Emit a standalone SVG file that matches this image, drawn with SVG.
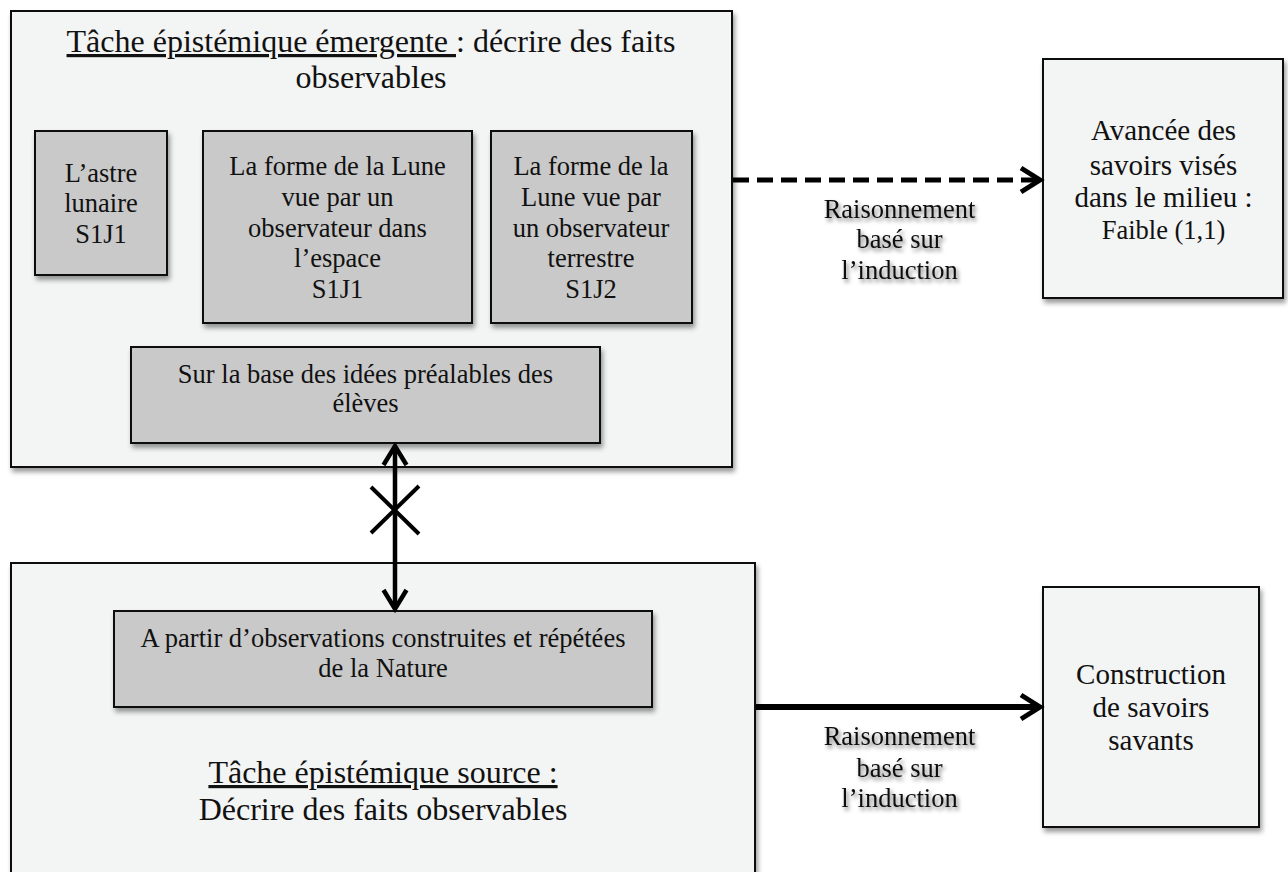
<svg xmlns="http://www.w3.org/2000/svg" width="1288" height="872" viewBox="0 0 1288 872">
<defs>
<style>
.outer{fill:#f3f4f4;stroke:#111;stroke-width:2}
.inner{fill:#c9c9c9;stroke:#111;stroke-width:2}
.t{font-family:"Liberation Serif","Times New Roman",serif;fill:#111;text-anchor:middle}
.f32{font-size:32px}
.f29{font-size:29px}
.f26{font-size:26.5px}
.conn{stroke:#000;fill:none;stroke-linejoin:miter;stroke-linecap:butt}
</style>
<filter id="sh" x="-5%" y="-5%" width="115%" height="115%">
<feDropShadow dx="2" dy="4" stdDeviation="2.5" flood-color="#000" flood-opacity="0.4"/>
</filter>
<filter id="ts" x="-10%" y="-30%" width="130%" height="170%">
<feGaussianBlur in="SourceAlpha" stdDeviation="2"/>
<feOffset dx="2" dy="3"/>
<feComponentTransfer><feFuncA type="linear" slope="0.55"/></feComponentTransfer>
<feMerge><feMergeNode/><feMergeNode in="SourceGraphic"/></feMerge>
</filter>
</defs>
<rect width="1288" height="872" fill="#fff"/>

<g id="tache-emergente">
<rect class="outer" x="11" y="11" width="721" height="456" filter="url(#sh)"/>
<text class="t f32" x="371" y="52"><tspan text-decoration="underline">Tâche épistémique émergente </tspan>: décrire des faits</text>
<text class="t f32" x="371" y="88">observables</text>
</g>

<g id="astre-lunaire">
<rect class="inner" x="35" y="131" width="132" height="144" filter="url(#sh)"/>
<text class="t f26" x="101" y="182">L’astre</text>
<text class="t f26" x="101" y="212">lunaire</text>
<text class="t f26" x="101" y="243">S1J1</text>
</g>

<g id="forme-espace">
<rect class="inner" x="203" y="131" width="269" height="192" filter="url(#sh)"/>
<text class="t f26" x="337.5" y="175">La forme de la Lune</text>
<text class="t f26" x="337.5" y="206">vue par un</text>
<text class="t f26" x="337.5" y="237">observateur dans</text>
<text class="t f26" x="337.5" y="267">l’espace</text>
<text class="t f26" x="337.5" y="298">S1J1</text>
</g>

<g id="forme-terrestre">
<rect class="inner" x="491" y="131" width="201" height="192" filter="url(#sh)"/>
<text class="t f26" x="591" y="175">La forme de la</text>
<text class="t f26" x="591" y="206">Lune vue par</text>
<text class="t f26" x="591" y="237">un observateur</text>
<text class="t f26" x="591" y="267">terrestre</text>
<text class="t f26" x="591" y="298">S1J2</text>
</g>

<g id="idees-prealables">
<rect class="inner" x="131" y="347" width="469" height="96" filter="url(#sh)"/>
<text class="t f26" x="365.5" y="383">Sur la base des idées préalables des</text>
<text class="t f26" x="365.5" y="412">élèves</text>
</g>

<g id="tache-source">
<rect class="outer" x="11" y="563" width="744" height="330" filter="url(#sh)"/>
<text class="t f32" x="383" y="783"><tspan text-decoration="underline">Tâche épistémique source :</tspan></text>
<text class="t f32" x="383" y="820">Décrire des faits observables</text>
</g>

<g id="observations-nature">
<rect class="inner" x="114" y="611" width="538" height="96" filter="url(#sh)"/>
<text class="t f26" x="383" y="647">A partir d’observations construites et répétées</text>
<text class="t f26" x="383" y="677">de la Nature</text>
</g>

<g id="avancee-savoirs">
<rect class="outer" x="1043" y="59" width="240" height="239" filter="url(#sh)"/>
<text class="t f29" x="1163.5" y="140">Avancée des</text>
<text class="t f29" x="1163.5" y="175">savoirs visés</text>
<text class="t f29" x="1163.5" y="207">dans le milieu :</text>
<text class="t f26" x="1163.5" y="239">Faible (1,1)</text>
</g>

<g id="construction-savoirs">
<rect class="outer" x="1043" y="587" width="216" height="240" filter="url(#sh)"/>
<text class="t f29" x="1151" y="684">Construction</text>
<text class="t f29" x="1151" y="717">de savoirs</text>
<text class="t f29" x="1151" y="750">savants</text>
</g>

<g id="connectors">
<line class="conn" x1="395" y1="447" x2="395" y2="608" stroke-width="4.5"/>
<path class="conn" d="M383.5,465 L395,446 L406.5,465" stroke-width="4.5"/>
<path class="conn" d="M383.5,590 L395,609 L406.5,590" stroke-width="4.5"/>
<path class="conn" d="M371,487 L419,534 M419,486 L371,533" stroke-width="4"/>

<line class="conn" x1="733" y1="180" x2="1036" y2="180" stroke-width="5" stroke-dasharray="16 8"/>
<path class="conn" d="M1021,168 L1040,180 L1021,192" stroke-width="5"/>

<line class="conn" x1="756" y1="707" x2="1038" y2="707" stroke-width="6"/>
<path class="conn" d="M1021,695 L1040,707 L1021,719" stroke-width="5"/>

<g filter="url(#ts)">
<text class="t f26" x="899.5" y="218">Raisonnement</text>
<text class="t f26" x="899.5" y="248">basé sur</text>
<text class="t f26" x="899.5" y="279">l’induction</text>
<text class="t f26" x="899.5" y="745">Raisonnement</text>
<text class="t f26" x="899.5" y="777">basé sur</text>
<text class="t f26" x="899.5" y="807">l’induction</text>
</g>
</g>
</svg>
